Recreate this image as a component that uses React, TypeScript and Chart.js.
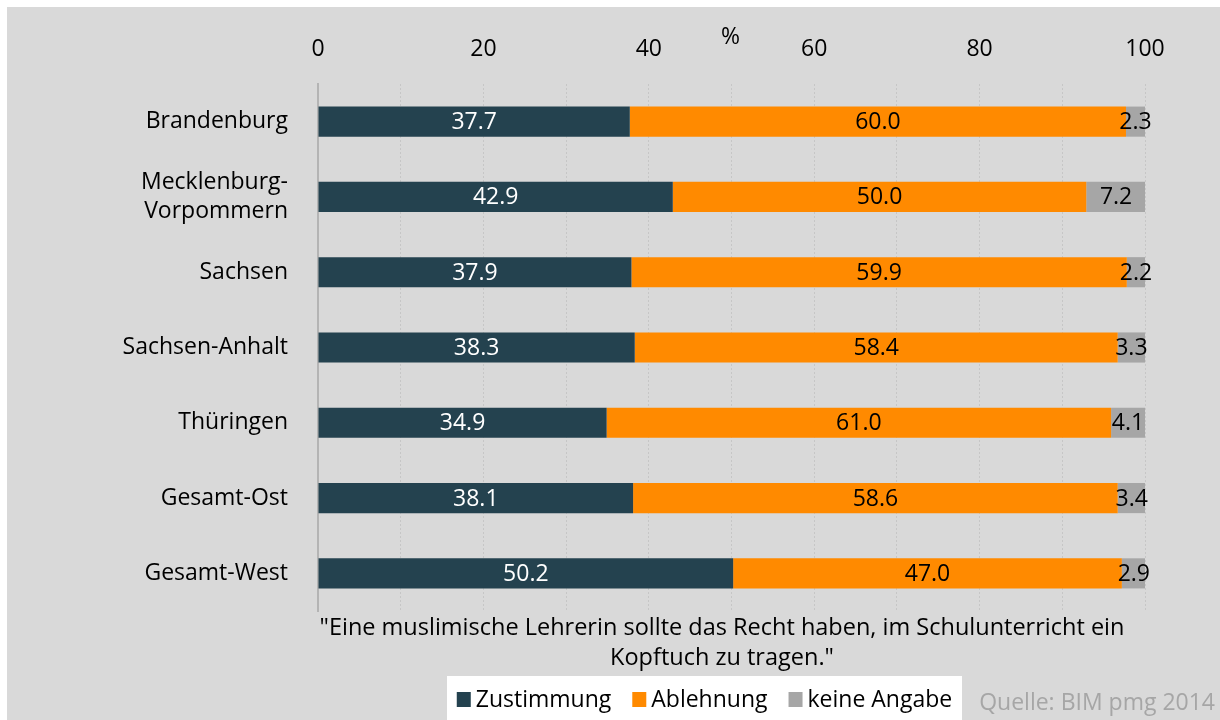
import React, { useEffect, useRef } from "react";
import { Chart, registerables } from "chart.js";

Chart.register(...registerables);

const categories: (string | string[])[] = [
  "Brandenburg",
  ["Mecklenburg-", "Vorpommern"],
  "Sachsen",
  "Sachsen-Anhalt",
  "Thüringen",
  "Gesamt-Ost",
  "Gesamt-West",
];
const zustimmung = [37.7, 42.9, 37.9, 38.3, 34.9, 38.1, 50.2];
const ablehnung = [60.0, 50.0, 59.9, 58.4, 61.0, 58.6, 47.0];
const keineAngabe = [2.3, 7.2, 2.2, 3.3, 4.1, 3.4, 2.9];
const seriesNames = ["Zustimmung", "Ablehnung", "keine Angabe"];
const seriesColors = ["#24424f", "#ff8a00", "#a6a6a6"];
const valueLabelColors = ["#ffffff", "#000000", "#000000"];
const xTickLabels = [0, 20, 40, 60, 80, 100];
const axisUnit = "%";
const quoteLines = [
  "\"Eine muslimische Lehrerin sollte das Recht haben, im Schulunterricht ein",
  "Kopftuch zu tragen.\"",
];
const sourceText = "Quelle: BIM pmg 2014";

const FONT = "'Open Sans', 'DejaVu Sans', sans-serif";

const overlayPlugin = {
  id: "overlay",
  afterDatasetsDraw(chart: any) {
    const ctx = chart.ctx;
    ctx.save();
    ctx.font = `23px ${FONT}`;
    ctx.textAlign = "center";
    ctx.textBaseline = "middle";
    chart.data.datasets.forEach((ds: any, di: number) => {
      const meta = chart.getDatasetMeta(di);
      meta.data.forEach((bar: any, i: number) => {
        const v = ds.data[i];
        const cx = (bar.x + bar.base) / 2;
        ctx.fillStyle = valueLabelColors[di];
        ctx.fillText(v.toFixed(1), cx, bar.y + 1);
      });
    });
    ctx.restore();
  },
  afterDraw(chart: any) {
    const ctx = chart.ctx;
    const area = chart.chartArea;
    const xs = chart.scales.x;
    ctx.save();
    ctx.font = `23px ${FONT}`;
    ctx.fillStyle = "#000000";
    ctx.textAlign = "center";
    ctx.textBaseline = "middle";
    // unit label
    ctx.fillText(axisUnit, xs.getPixelForValue(50) - 1, 30);
    // quote
    ctx.font = `23.5px ${FONT}`;
    const qx = 715;
    ctx.fillText(quoteLines[0], qx, area.bottom + 17);
    ctx.fillText(quoteLines[1], qx, area.bottom + 47);
    ctx.font = `23px ${FONT}`;
    // legend box
    const boxL = 440, boxT = 669, boxW = 515, boxH = 44;
    ctx.fillStyle = "#ffffff";
    ctx.fillRect(boxL, boxT, boxW, boxH);
    const sq = 14, gapSq = 5, gapItem = 21;
    const widths = seriesNames.map((n) => ctx.measureText(n).width);
    const total = widths.reduce((a, w) => a + sq + gapSq + w, 0) + gapItem * (seriesNames.length - 1);
    let x = boxL + (boxW - total) / 2;
    const ly = boxT + 24;
    ctx.textAlign = "left";
    seriesNames.forEach((n, i) => {
      ctx.fillStyle = seriesColors[i];
      ctx.fillRect(x, ly - 8, sq, 15);
      x += sq + gapSq;
      ctx.fillStyle = "#000000";
      ctx.fillText(n, x, ly);
      x += widths[i] + gapItem;
    });
    // source
    ctx.fillStyle = "#a6a6a6";
    ctx.textAlign = "right";
    ctx.fillText(sourceText, 1208, 696);
    ctx.restore();
  },
};

export default function App() {
  const ref = useRef<HTMLCanvasElement | null>(null);
  useEffect(() => {
    if (!ref.current) return;
    const data = [zustimmung, ablehnung, keineAngabe];
    const chart = new Chart(ref.current, {
      type: "bar",
      data: {
        labels: categories as any,
        datasets: seriesNames.map((name, i) => ({
          label: name,
          data: data[i],
          backgroundColor: seriesColors[i],
          borderWidth: 0,
          categoryPercentage: 0.4,
          barPercentage: 1.0,
        })),
      },
      options: {
        indexAxis: "y",
        animation: false,
        responsive: false,
        maintainAspectRatio: false,
        layout: { padding: { top: 0, left: 0, right: 75, bottom: 109 } },
        plugins: {
          legend: { display: false },
          tooltip: { enabled: false },
          title: { display: false },
        },
        scales: {
          x: {
            position: "top",
            stacked: true,
            min: 0,
            max: 100,
            afterFit: (s: any) => {
              s.height = 77;
            },
            afterBuildTicks: (s: any) => {
              s.ticks = [0, 10, 20, 30, 40, 50, 60, 70, 80, 90, 100].map((v) => ({ value: v }));
            },
            ticks: {
              callback: (v: any) => (xTickLabels.includes(Number(v)) ? String(v) : ""),
              color: "#000000",
              font: { family: FONT, size: 23 },
              padding: 21,
              maxRotation: 0,
              autoSkip: false,
            },
            grid: { color: "#c6c6c6", lineWidth: 1, drawTicks: false },
            border: { display: false, dash: [2, 2] },
          },
          y: {
            stacked: true,
            afterFit: (s: any) => {
              s.width = 311;
            },
            ticks: {
              color: "#000000",
              font: { family: FONT, size: 23, lineHeight: 1.26 },
              padding: 30,
              autoSkip: false,
            },
            grid: { display: false, drawTicks: false },
            border: { display: true, color: "#b4b4b4", width: 2 },
          },
        },
      },
      plugins: [overlayPlugin],
    });
    return () => chart.destroy();
  }, []);
  return (
    <div
      style={{
        position: "fixed",
        left: 7,
        top: 7,
        width: 1213,
        height: 713,
        background: "#d9d9d9",
      }}
    >
      <canvas ref={ref} width={1213} height={713} style={{ display: "block" }} />
    </div>
  );
}
